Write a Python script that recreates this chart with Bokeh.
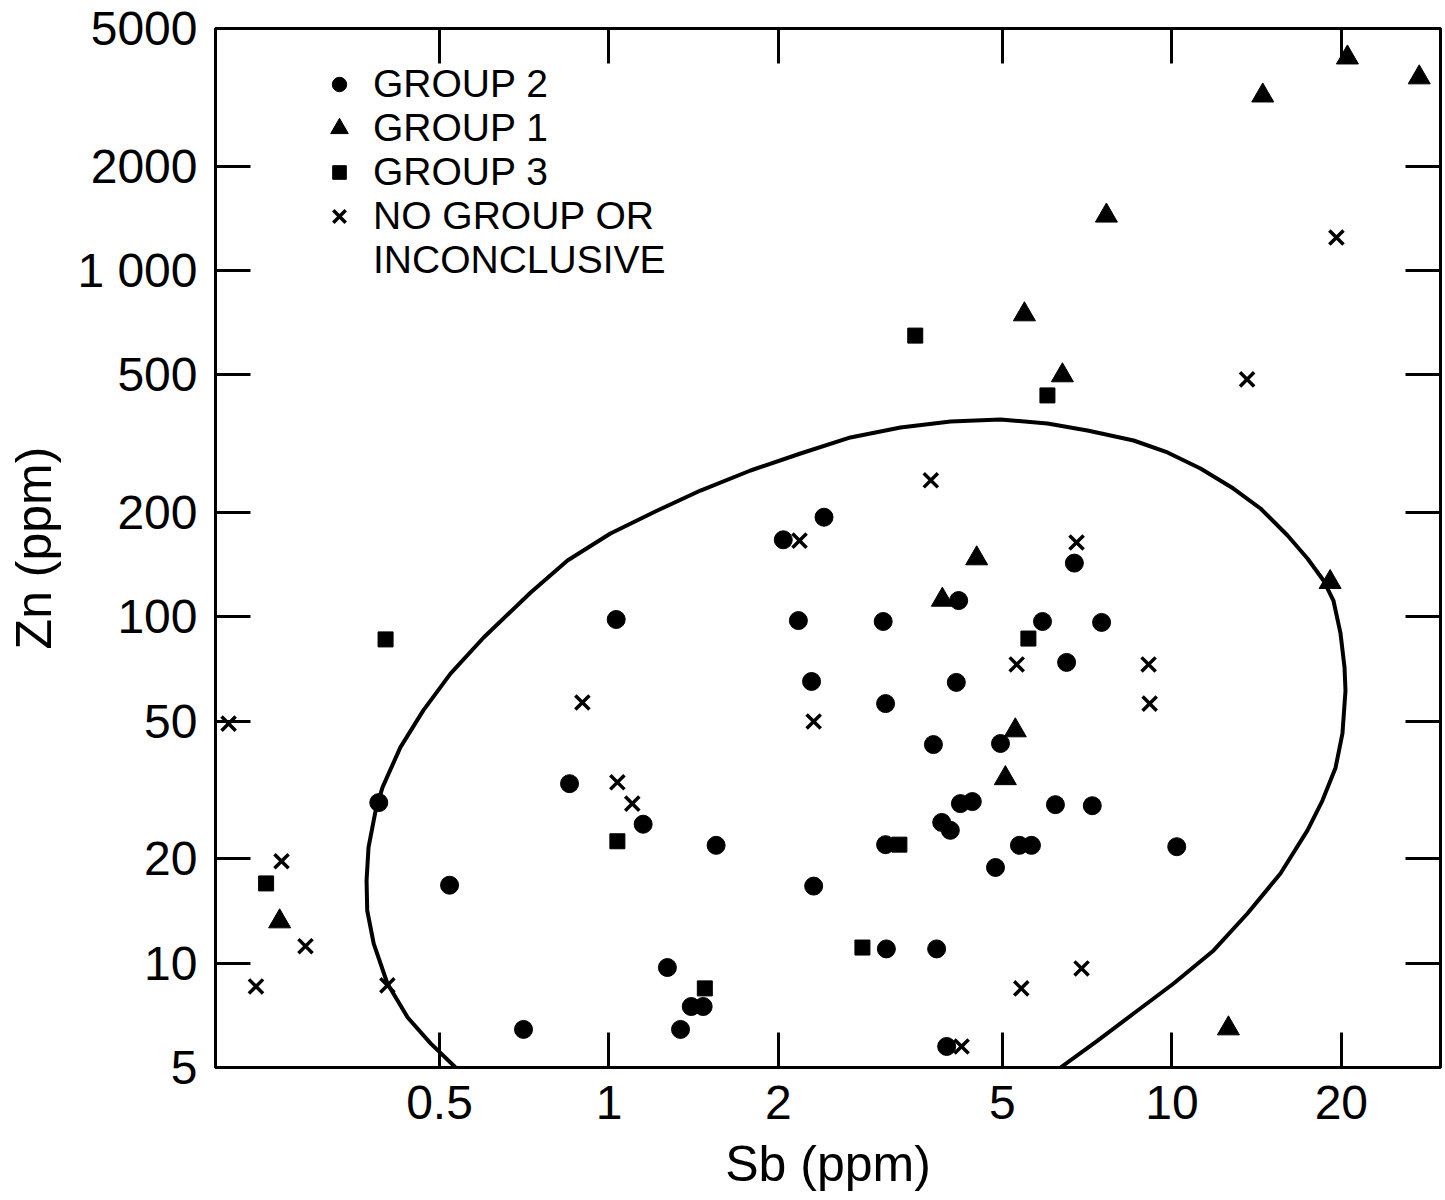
from bokeh.plotting import figure
from bokeh.models import FixedTicker, LogAxis, Legend, LegendItem, Range1d
from bokeh.embed import file_html
from bokeh.resources import INLINE

# ---------------- data ----------------
x_ticks = [0.5, 1, 2, 5, 10, 20]
x_tick_labels = ["0.5", "1", "2", "5", "10", "20"]
y_ticks = [5, 10, 20, 50, 100, 200, 500, 1000, 2000, 5000]
y_tick_labels = ["5", "10", "20", "50", "100", "200", "500", "1 000", "2000", "5000"]

grp1_sb = [20.5, 27.5, 14.5, 7.65, 5.47, 6.39, 4.50, 3.91, 5.27, 5.06, 19.1, 0.260, 12.6]
grp1_zn = [4120, 3610, 3200, 1440, 747, 498, 147.5, 112, 47.0, 34.2, 126, 13.2, 6.48]

grp2_sb = [2.41, 2.04, 2.17, 3.07, 4.18, 5.89, 7.50, 6.71, 6.50, 1.03,
           2.29, 3.10, 4.14, 3.77, 4.96, 0.390, 0.851, 1.15, 1.55, 3.10,
           3.90, 4.04, 4.21, 4.42, 6.21, 7.22, 4.86, 5.36, 5.63, 10.2,
           0.521, 2.31, 3.11, 3.82, 1.27, 0.705, 1.34, 1.40, 1.47, 3.98]
grp2_zn = [194, 167, 97.6, 97.0, 111.5, 97.0, 96.4, 143, 73.9, 98.3,
           65.1, 56.2, 64.7, 42.8, 43.1, 29.1, 33.0, 25.2, 21.9, 22.0,
           25.5, 24.2, 28.9, 29.3, 28.7, 28.5, 18.9, 21.9, 21.9, 21.7,
           16.8, 16.7, 11.0, 11.0, 9.72, 6.44, 6.44, 7.50, 7.50, 5.75]

grp3_sb = [3.50, 6.01, 0.401, 5.56, 1.035, 3.28, 2.82, 0.246, 1.48]
grp3_zn = [649, 436, 86.1, 86.6, 22.5, 22.0, 11.1, 17.0, 8.46]

none_sb = [19.6, 13.6, 3.73, 2.18, 6.77, 0.897, 2.31, 5.30, 9.09, 9.13,
           0.211, 1.035, 1.10, 0.262, 0.289, 0.236, 0.404, 6.91, 5.40, 4.23]
none_zn = [1246, 485, 248, 166, 164, 56.6, 49.9, 72.9, 72.9, 56.2,
           49.2, 33.3, 28.9, 19.7, 11.2, 8.57, 8.63, 9.66, 8.46, 5.75]

curve_sb = [0.534, 0.482, 0.439, 0.404, 0.382, 0.372, 0.371, 0.374, 0.385, 0.396,
            0.426, 0.468, 0.523, 0.599, 0.726, 0.844, 1.006, 1.219, 1.454, 1.784,
            2.189, 2.685, 3.295, 4.044, 4.96, 6.01, 7.08, 8.55, 9.82, 11.24,
            12.86, 14.37, 16.05, 17.41, 18.59, 19.36, 19.93, 20.26, 20.34, 20.09,
            19.53, 18.51, 17.41, 15.59, 13.62, 11.86, 10.07, 8.55, 7.38, 6.34]
curve_zn = [5.00, 5.87, 6.97, 8.74, 11.40, 14.20, 17.34, 21.59, 27.6, 32.2,
            42.0, 53.7, 68.6, 87.2, 117.6, 145.5, 174.1, 202.9, 231.7, 264.7,
            296.4, 329.7, 352.3, 366.6, 371.6, 361.9, 345.4, 323.1, 298.4, 268.3,
            234.8, 205.6, 171.8, 147.5, 127.4, 111.5, 89.6, 71.4, 61.3, 46.1,
            36.7, 29.5, 24.2, 18.16, 13.92, 10.89, 8.74, 7.16, 5.98, 5.00]

legend_labels = ["GROUP 2", "GROUP 1", "GROUP 3", "NO GROUP OR", "INCONCLUSIVE"]

FONT = "Liberation Sans"

p = figure(width=1445, height=1200, x_axis_type="log", y_axis_type="log",
           x_range=Range1d(0.2, 30), y_range=Range1d(5, 5000),
           output_backend="svg", toolbar_location=None,
           min_border_left=215, min_border_right=5, min_border_top=28,
           min_border_bottom=133)
p.grid.visible = False
p.outline_line_color = "black"
p.outline_line_width = 3
p.background_fill_color = "white"
p.border_fill_color = "white"

def style_axis(ax, ticks, labels, show_labels):
    ax.ticker = FixedTicker(ticks=ticks)
    ax.major_tick_in = 35
    ax.major_tick_out = 0
    ax.major_tick_line_width = 3
    ax.major_tick_line_color = "black"
    ax.minor_tick_line_color = None
    ax.axis_line_width = 3
    ax.axis_line_color = "black"
    ax.major_label_text_font = FONT
    if show_labels:
        ax.major_label_overrides = {t: l for t, l in zip(ticks, labels)}
        ax.major_label_text_font_size = "48px"
        ax.major_label_text_color = "black"
        ax.major_label_standoff = 18
    else:
        ax.major_label_overrides = {t: "" for t in ticks}
        ax.major_label_text_font_size = "1px"
        ax.major_label_text_color = None
        ax.major_label_standoff = 0

style_axis(p.xaxis[0], x_ticks, x_tick_labels, True)
style_axis(p.yaxis[0], y_ticks, y_tick_labels, True)
p.xaxis[0].axis_label = "Sb (ppm)"
p.yaxis[0].axis_label = "Zn (ppm)"
for ax in (p.xaxis[0], p.yaxis[0]):
    ax.axis_label_text_font = FONT
    ax.axis_label_text_font_size = "50px"
    ax.axis_label_text_font_style = "normal"
    ax.axis_label_text_color = "black"
p.xaxis[0].axis_label_standoff = 14
p.yaxis[0].axis_label_standoff = 12

top_ax = LogAxis()
style_axis(top_ax, x_ticks, x_tick_labels, False)
p.add_layout(top_ax, "above")
right_ax = LogAxis()
style_axis(right_ax, y_ticks, y_tick_labels, False)
p.add_layout(right_ax, "right")

p.line(curve_sb, curve_zn, line_color="black", line_width=4)

r2 = p.scatter(grp2_sb, grp2_zn, marker="circle", size=18, fill_color="black", line_color="black")
r1 = p.scatter(grp1_sb, grp1_zn, marker="triangle", size=22, fill_color="black", line_color="black")
r3 = p.scatter(grp3_sb, grp3_zn, marker="square", size=15, fill_color="black", line_color="black")
r4 = p.scatter(none_sb, none_zn, marker="x", size=20, line_color="black", line_width=3.5)
r_blank = p.scatter(x=[], y=[], marker="x", size=1, line_alpha=0, fill_alpha=0)

# legend: one single-row legend per line of the key (glyph box, left offset, bottom offset)
legend_renderers = [r2, r1, r3, r4, r_blank]
legend_glyph_box = [36, 44, 34, 44, 36]
legend_left = [106, 102, 107, 102, 106]
legend_bottom = [961, 917, 873, 829, 785]
for label, rend, gw, lx, ly in zip(legend_labels, legend_renderers, legend_glyph_box,
                                   legend_left, legend_bottom):
    lg = Legend(items=[LegendItem(label=label, renderers=[rend])], location=(lx, ly))
    lg.border_line_color = None
    lg.background_fill_alpha = 0
    lg.padding = 0
    lg.margin = 0
    lg.spacing = 0
    lg.glyph_width = gw
    lg.glyph_height = gw
    lg.label_height = 36
    lg.label_standoff = 158 - lx - gw
    lg.label_text_font = FONT
    lg.label_text_font_size = "39px"
    lg.label_text_color = "black"
    p.add_layout(lg)

open("out.html", "w").write(file_html(p, INLINE))
